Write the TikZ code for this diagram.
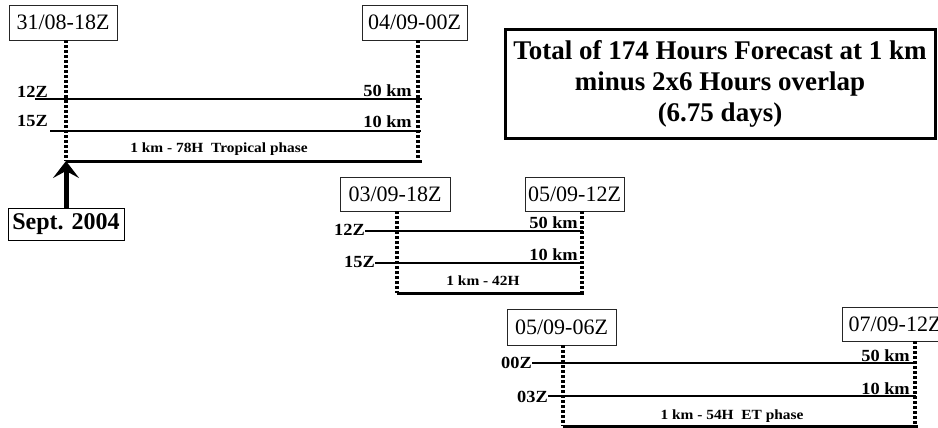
\documentclass[tikz,border=0pt]{standalone}
\usepackage{fontspec}
\setmainfont{Liberation Serif}
\newfontfamily\lblfont[FakeStretch=1.08]{Liberation Serif}
\newfontfamily\phfont[FakeStretch=1.1]{Liberation Serif}
\usetikzlibrary{arrows.meta}
\begin{document}
\begin{tikzpicture}[x=1pt,y=-1pt,
  datebox/.style={draw=black!85, line width=0.8pt, inner sep=0pt, font=\fontsize{22}{24}\selectfont},
  timeline/.style={line width=4.5pt, dash pattern=on 3pt off 2pt},
  fline/.style={line width=2pt},
  endline/.style={line width=3pt},
  hr/.style={font=\lblfont\bfseries\fontsize{17}{17}\selectfont, inner sep=0pt},
  phase/.style={font=\phfont\bfseries\fontsize{14}{14}\selectfont, inner sep=0pt, anchor=base},
]
\useasboundingbox (0,0) rectangle (938,428);

% ---------- Group 1 ----------
\node[datebox, minimum width=108pt, minimum height=35pt] (a1) at (63,22.5) {31/08-18Z};
\node[datebox, minimum width=105pt, minimum height=35pt] (b1) at (414.5,22.5) {04/09-00Z};
\coordinate (a1b) at (66,161);
\coordinate (b1b) at (418,161);
\coordinate (e1) at (422,161);
\draw[timeline] (a1.south -| a1b) -- (a1b);
\draw[timeline] (b1.south -| b1b) -- (b1b);
\node[hr, anchor=base west] (t12a) at (17,98) {12Z};
\node[hr, anchor=base west] (t15a) at (17,127) {15Z};
\coordinate (s12a) at (35,99);  \coordinate (r12a) at (422,99);
\coordinate (s15a) at (50,131); \coordinate (r15a) at (421,131);
\draw[fline] (s12a) -- (r12a);
\draw[fline] (s15a) -- (r15a);
\node[hr, anchor=base east] (k50a) at (412,96) {50 km};
\node[hr, anchor=base east] (k10a) at (412,128) {10 km};
\node[phase] (p1) at (219,152) {1 km - 78H\ \ Tropical phase};
\draw[endline] (a1b) -- (e1);

\node[draw, line width=1pt, inner sep=0pt, minimum width=116pt, minimum height=32pt,
      font=\bfseries\fontsize{24}{26}\selectfont] (sept) at (66,224) {Sept. 2004};
\draw[line width=5pt, -{Stealth[length=17pt, width=26pt, inset=7pt]}] (sept.north) -- (a1b);

% ---------- Group 2 ----------
\node[datebox, minimum width=110pt, minimum height=34pt] (a2) at (395,194) {03/09-18Z};
\node[datebox, minimum width=99pt, minimum height=34pt] (b2) at (574.5,194) {05/09-12Z};
\coordinate (a2b) at (397,293);
\coordinate (b2b) at (582,293);
\coordinate (e2) at (584,293);
\draw[timeline] (a2.south -| a2b) -- (a2b);
\draw[timeline] (b2.south -| b2b) -- (b2b);
\node[hr, anchor=base east] (t12b) at (365,235) {12Z};
\node[hr, anchor=base east] (t15b) at (375,267) {15Z};
\coordinate (r12b) at (583,231);
\coordinate (r15b) at (583,263);
\draw[fline] (365,231) -- (r12b);
\draw[fline] (375,263) -- (r15b);
\node[hr, anchor=base east] (k50b) at (578,228) {50 km};
\node[hr, anchor=base east] (k10b) at (578,260) {10 km};
\node[phase] (p2) at (483,285) {1 km - 42H};
\draw[endline] (a2b) -- (e2);

% ---------- Group 3 ----------
\node[datebox, minimum width=109pt, minimum height=36pt] (a3) at (561.5,327) {05/09-06Z};
\node[datebox, minimum width=106pt, minimum height=34pt] (b3) at (895,324) {07/09-12Z};
\coordinate (a3b) at (563,426);
\coordinate (b3b) at (915,426);
\coordinate (e3) at (918,426);
\draw[timeline] (a3.south -| a3b) -- (a3b);
\draw[timeline] (b3.south -| b3b) -- (b3b);
\node[hr, anchor=base east] (t00c) at (532,368) {00Z};
\node[hr, anchor=base east] (t03c) at (548,402) {03Z};
\coordinate (r00c) at (916,363);
\coordinate (r03c) at (916,396);
\draw[fline] (532,363) -- (r00c);
\draw[fline] (548,396) -- (r03c);
\node[hr, anchor=base east] (k50c) at (910,361) {50 km};
\node[hr, anchor=base east] (k10c) at (910,394) {10 km};
\node[phase] (p3) at (732,419) {1 km - 54H\ \ ET phase};
\draw[endline] (a3b) -- (e3);

% ---------- Summary box ----------
\node[draw, line width=3pt, minimum width=430pt, minimum height=108pt, inner sep=0pt,
      align=center, font=\bfseries\fontsize{27}{31}\selectfont] (tot) at (720,84)
  {Total of 174 Hours Forecast at 1 km\\minus 2x6 Hours overlap\\(6.75 days)};
\end{tikzpicture}
\end{document}
